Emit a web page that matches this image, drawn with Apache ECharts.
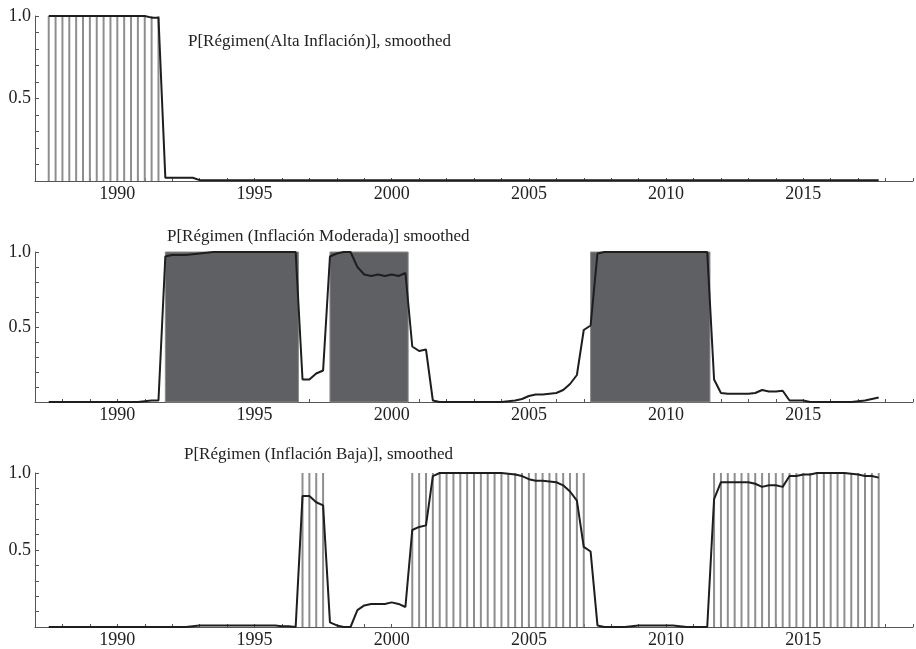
<!DOCTYPE html>
<html>
<head>
<meta charset="utf-8">
<script src="https://cdn.jsdelivr.net/npm/echarts@6/dist/echarts.min.js"></script>
<style>
html, body { margin: 0; padding: 0; background: #fff; }
#chart { width: 916px; height: 649px; }
</style>
</head>
<body>
<div id="chart"></div>
<script>
// quarterly data, first observation 1987 Q3
var startYear = 1987.5;

var titles = [
    'P[Régimen(Alta Inflación)], smoothed',
    'P[Régimen (Inflación Moderada)] smoothed',
    'P[Régimen (Inflación Baja)], smoothed'
];

// P[alta inflacion], smoothed
var altaProb = [
    1.0, 1.0,
    1.0, 1.0, 1.0, 1.0,
    1.0, 1.0, 1.0, 1.0,
    1.0, 1.0, 1.0, 1.0,
    1.0, 0.99, 0.99, 0.02,
    0.02, 0.02, 0.02, 0.02,
    0.005, 0.005, 0.005, 0.005,
    0.005, 0.005, 0.005, 0.005,
    0.005, 0.005, 0.005, 0.005,
    0.005, 0.005, 0.005, 0.005,
    0.005, 0.005, 0.005, 0.005,
    0.005, 0.005, 0.005, 0.005,
    0.005, 0.005, 0.005, 0.005,
    0.005, 0.005, 0.005, 0.005,
    0.005, 0.005, 0.005, 0.005,
    0.005, 0.005, 0.005, 0.005,
    0.005, 0.005, 0.005, 0.005,
    0.005, 0.005, 0.005, 0.005,
    0.005, 0.005, 0.005, 0.005,
    0.005, 0.005, 0.005, 0.005,
    0.005, 0.005, 0.005, 0.005,
    0.005, 0.005, 0.005, 0.005,
    0.005, 0.005, 0.005, 0.005,
    0.005, 0.005, 0.005, 0.005,
    0.005, 0.005, 0.005, 0.005,
    0.005, 0.005, 0.005, 0.005,
    0.005, 0.005, 0.005, 0.005,
    0.005, 0.005, 0.005, 0.005,
    0.005, 0.005, 0.005, 0.005,
    0.005, 0.005, 0.005, 0.005,
    0.005, 0.005, 0.005, 0.005
];

// P[inflacion moderada], smoothed
var moderadaProb = [
    0.0, 0.0,
    0.0, 0.0, 0.0, 0.0,
    0.0, 0.0, 0.0, 0.0,
    0.0, 0.0, 0.0, 0.0,
    0.005, 0.01, 0.01, 0.97,
    0.98, 0.98, 0.98, 0.985,
    0.99, 0.995, 1.0, 1.0,
    1.0, 1.0, 1.0, 1.0,
    1.0, 1.0, 1.0, 1.0,
    1.0, 1.0, 1.0, 0.15,
    0.15, 0.19, 0.21, 0.97,
    0.99, 1.0, 1.0, 0.90,
    0.85, 0.84, 0.85, 0.84,
    0.85, 0.84, 0.86, 0.37,
    0.34, 0.35, 0.01, 0.0,
    0.0, 0.0, 0.0, 0.0,
    0.0, 0.0, 0.0, 0.0,
    0.0, 0.005, 0.01, 0.02,
    0.04, 0.05, 0.05, 0.055,
    0.06, 0.08, 0.12, 0.18,
    0.48, 0.51, 0.99, 1.0,
    1.0, 1.0, 1.0, 1.0,
    1.0, 1.0, 1.0, 1.0,
    1.0, 1.0, 1.0, 1.0,
    1.0, 1.0, 1.0, 0.15,
    0.06, 0.055, 0.055, 0.055,
    0.055, 0.06, 0.08, 0.07,
    0.07, 0.075, 0.01, 0.01,
    0.01, 0.0, 0.0, 0.0,
    0.0, 0.0, 0.0, 0.0,
    0.005, 0.01, 0.02, 0.03
];

// P[inflacion baja], smoothed
var bajaProb = [
    0.0, 0.0,
    0.0, 0.0, 0.0, 0.0,
    0.0, 0.0, 0.0, 0.0,
    0.0, 0.0, 0.0, 0.0,
    0.0, 0.0, 0.0, 0.0,
    0.0, 0.0, 0.0, 0.005,
    0.01, 0.01, 0.01, 0.01,
    0.01, 0.01, 0.01, 0.01,
    0.01, 0.01, 0.01, 0.01,
    0.005, 0.005, 0.0, 0.85,
    0.85, 0.81, 0.79, 0.03,
    0.01, 0.0, 0.0, 0.11,
    0.14, 0.15, 0.15, 0.15,
    0.16, 0.15, 0.13, 0.63,
    0.65, 0.66, 0.98, 1.0,
    1.0, 1.0, 1.0, 1.0,
    1.0, 1.0, 1.0, 1.0,
    1.0, 0.995, 0.99, 0.98,
    0.96, 0.95, 0.95, 0.945,
    0.94, 0.92, 0.88, 0.82,
    0.52, 0.49, 0.01, 0.0,
    0.0, 0.0, 0.0, 0.005,
    0.01, 0.01, 0.01, 0.01,
    0.01, 0.01, 0.005, 0.0,
    0.0, 0.0, 0.0, 0.83,
    0.94, 0.94, 0.94, 0.94,
    0.94, 0.93, 0.91, 0.92,
    0.92, 0.91, 0.98, 0.98,
    0.99, 0.99, 1.0, 1.0,
    1.0, 1.0, 1.0, 0.995,
    0.99, 0.98, 0.98, 0.97
];

var probs = [altaProb, moderadaProb, bajaProb];

var serif = '"Liberation Serif", "DejaVu Serif", serif';
var gridTops = [16, 252, 473];
var gridHeights = [165, 150, 155];
var titlePos = [[188, 33], [167, 228], [184, 446]];

function qYear(i) { return startYear + i * 0.25; }

function toPairs(arr) {
    return arr.map(function (v, i) { return [qYear(i), v]; });
}

// quarters classified in the regime (smoothed prob > 0.5)
function regimeStripes(arr) {
    var out = [];
    arr.forEach(function (v, i) { if (v > 0.5) out.push([qYear(i), 1]); });
    return out;
}

function regimeAreas(arr) {
    var areas = [], start = null;
    arr.forEach(function (v, i) {
        if (v > 0.5 && start === null) start = qYear(i);
        var last = (i === arr.length - 1) || !(arr[i + 1] > 0.5);
        if (v > 0.5 && last) {
            areas.push([{ xAxis: start }, { xAxis: qYear(i) + 0.1 }]);
            start = null;
        }
    });
    return areas;
}

var myChart = echarts.init(document.getElementById('chart'));

var option = {
    animation: false,
    backgroundColor: '#fff',
    title: titles.map(function (t, i) {
        return {
            text: t, left: titlePos[i][0], top: titlePos[i][1], padding: 0,
            textStyle: { fontFamily: serif, fontSize: 17, fontWeight: 'normal', color: '#222' }
        };
    }),
    grid: gridTops.map(function (top, i) {
        return { left: 35, right: 1, top: top, height: gridHeights[i] };
    }),
    xAxis: gridTops.map(function (_, i) {
        return {
            type: 'value', gridIndex: i, min: 1987, max: 2019, interval: 1,
            splitLine: { show: false },
            axisLine: { lineStyle: { color: '#555', width: 1 } },
            axisTick: { inside: true, length: 3, lineStyle: { color: '#555' } },
            axisLabel: {
                margin: 4, color: '#222', fontFamily: serif, fontSize: 18,
                formatter: function (v) { return v % 5 === 0 ? String(v) : ''; }
            }
        };
    }),
    yAxis: gridTops.map(function (_, i) {
        return {
            type: 'value', gridIndex: i, min: 0, max: 1, interval: 0.1,
            splitLine: { show: false },
            axisLine: { show: true, lineStyle: { color: '#555', width: 1 } },
            axisTick: { inside: true, length: 4, lineStyle: { color: '#555' } },
            axisLabel: {
                margin: 4, color: '#222', fontFamily: serif, fontSize: 18,
                formatter: function (v) {
                    if (Math.abs(v - 0.5) < 1e-6) return '0.5';
                    if (Math.abs(v - 1) < 1e-6) return '1.0';
                    return '';
                }
            }
        };
    }),
    series: []
};

// regime shading: stripes for alta and baja, solid block for moderada
[0, 2].forEach(function (i) {
    option.series.push({
        type: 'bar', xAxisIndex: i, yAxisIndex: i, z: 1,
        barWidth: 2,
        itemStyle: { color: '#8e8e8e' },
        data: regimeStripes(probs[i])
    });
});
option.series.push({
    type: 'line', xAxisIndex: 1, yAxisIndex: 1, z: 1,
    data: [],
    markArea: {
        silent: true,
        itemStyle: { color: '#5f6063', borderColor: '#8a8a8a', borderWidth: 1 },
        data: regimeAreas(moderadaProb)
    }
});

probs.forEach(function (arr, i) {
    option.series.push({
        type: 'line', xAxisIndex: i, yAxisIndex: i, z: 3,
        showSymbol: false,
        lineStyle: { color: '#1e1e1e', width: 2 },
        data: toPairs(arr)
    });
});

myChart.setOption(option);
</script>
</body>
</html>
